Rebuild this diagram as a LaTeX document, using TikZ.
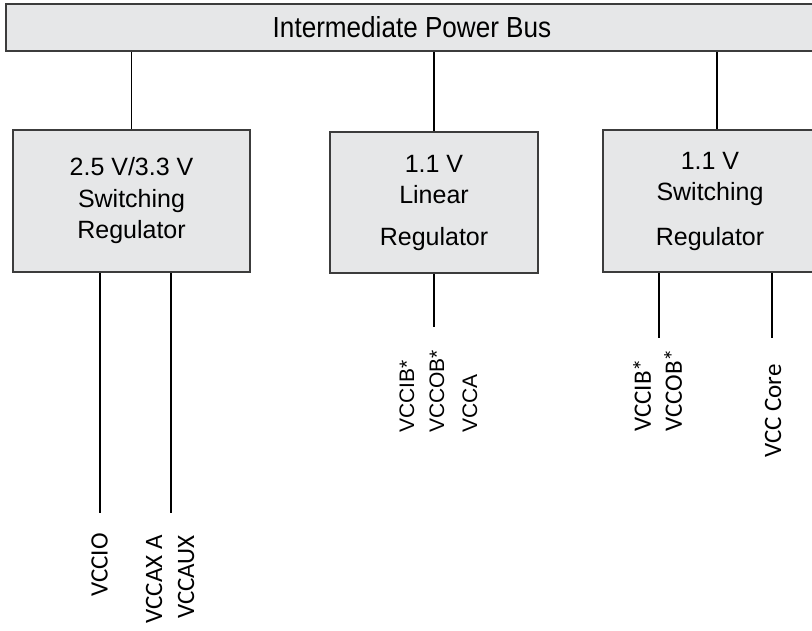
\documentclass[tikz,border=0pt]{standalone}
\usepackage{fontspec}
\setmainfont{Liberation Sans}
\newfontfamily\busfont[FakeStretch=0.9]{Liberation Sans}
\newfontfamily\railfont{Carlito}
\definecolor{boxgray}{RGB}{230,231,232}
\definecolor{edgegray}{RGB}{60,60,60}
\begin{document}
\begin{tikzpicture}[x=1pt,y=-1pt,
    block/.style={draw=edgegray,line width=1.6pt,fill=boxgray,inner sep=0pt,align=center,
      font=\fontsize{25}{31.5}\selectfont},
    wire/.style={line width=1.5pt},
    railtext/.style={rotate=90,inner sep=0pt,font=\railfont\fontsize{25}{25}\selectfont},
    railtextA/.style={rotate=90,inner sep=0pt,font=\fontsize{21}{21}\selectfont}]
  \useasboundingbox (0,0) rectangle (812,630);
  % bus and regulators
  \node[block,minimum width=812pt,minimum height=47pt,font=\busfont\fontsize{29}{29}\selectfont] (bus) at (412,27.5) {Intermediate Power Bus};
  \node[block,minimum width=237pt,minimum height=142pt] (sw25) at (131.5,201) {2.5 V/3.3 V\\Switching\\Regulator};
  \node[block,minimum width=208pt,minimum height=141pt] (lin11) at (434,202.5) {1.1 V\\Linear\\[10pt]Regulator};
  \node[block,minimum width=214pt,minimum height=142pt] (sw11) at (710,201) {1.1 V\\Switching\\[13pt]Regulator};
  % taps off the bus
  \coordinate (tap3) at (717,0);
  \draw[wire] (bus.south -| sw25.north) -- (sw25.north);
  \draw[wire] (bus.south -| lin11.north) -- (lin11.north);
  \draw[wire] (bus.south -| tap3) -- (sw11.north -| tap3);
  % output rails
  \coordinate (io) at (100,513);
  \coordinate (aux) at (171,513);
  \coordinate (lo) at (434,327);
  \coordinate (sb) at (659,338);
  \coordinate (core) at (772,338);
  \draw[wire] (sw25.south -| io) -- (io);
  \draw[wire] (sw25.south -| aux) -- (aux);
  \draw[wire] (lin11.south -| lo) -- (lo);
  \draw[wire] (sw11.south -| sb) -- (sb);
  \draw[wire] (sw11.south -| core) -- (core);
  % rail names
  \node[railtext,anchor=east] (vccio) at (99.5,533) {VCCIO};
  \node[railtext,anchor=east] (vccaxa) at (154,535) {VCCAX A};
  \node[railtext,anchor=east] (vccaux) at (186,535) {VCCAUX};
  \node[railtextA,anchor=west] (vccib1) at (407,433) {VCCIB*};
  \node[railtextA,anchor=west] (vccob1) at (437,433) {VCCOB*};
  \node[railtextA,anchor=west] (vcca) at (470,433) {VCCA};
  \node[railtext,anchor=west] (vccib2) at (642,432) {VCCIB*};
  \node[railtext,anchor=west] (vccob2) at (673,432) {VCCOB*};
  \node[railtext,anchor=west] (vcccore) at (773,458) {VCC Core};
\end{tikzpicture}
\end{document}
